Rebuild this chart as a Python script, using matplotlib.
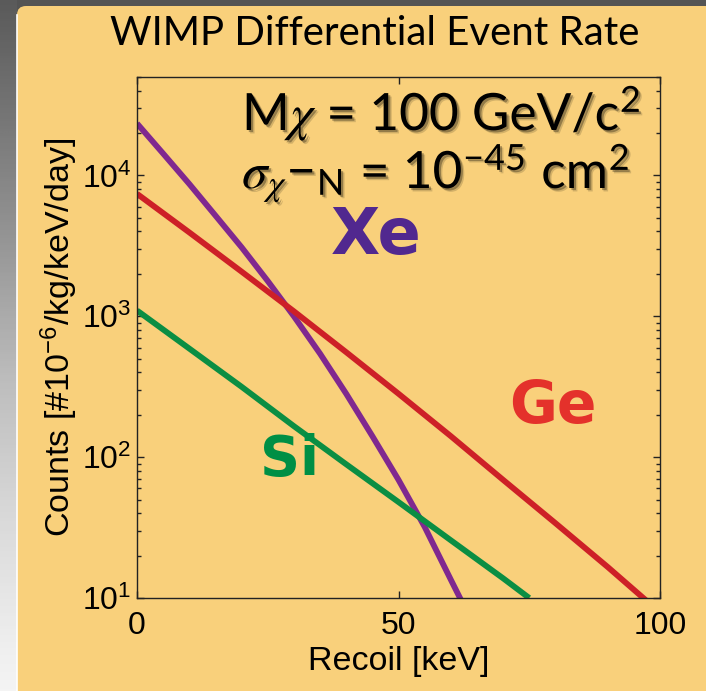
import numpy as np
import matplotlib
matplotlib.use("Agg")
import matplotlib.pyplot as plt
from matplotlib.patches import FancyBboxPatch
from matplotlib.lines import Line2D
import matplotlib.patheffects as pe

# recoil energy [keV] and differential rate [1e-6 counts/kg/keV/day]
recoil_xe = [0, 5, 10, 15, 20, 25, 30, 35, 40, 45, 50, 55, 60, 62]
rate_xe = [23400, 14300, 8700, 5190, 3090, 1780, 1000, 543, 282, 141, 69, 32, 13.5, 9.6]

recoil_ge = [0, 10, 20, 30, 40, 50, 60, 70, 80, 90, 97.5]
rate_ge = [7410, 3940, 2075, 1085, 556, 282, 141, 69, 34, 16.6, 9.5]

recoil_si = [0, 10, 20, 30, 40, 50, 60, 70, 75]
rate_si = [1100, 590, 316, 166, 89, 48, 25.7, 13.8, 10]

targets = ["Xe", "Ge", "Si"]
line_colors = ["#80288F", "#CD2027", "#0B8E43"]
label_colors = ["#51288F", "#E4312B", "#008F45"]
label_sizes = [46, 42, 40]

orange = "#F9D07B"

plt.rcParams["font.family"] = ["Liberation Sans", "DejaVu Sans"]
plt.rcParams["mathtext.fontset"] = "custom"
plt.rcParams["mathtext.rm"] = "Lato"
plt.rcParams["mathtext.it"] = "STIXGeneral:italic"

fig = plt.figure(figsize=(7.06, 6.91), dpi=100)
fig.patch.set_facecolor("#545454")

# grey gradient strip down the left side
strip = fig.add_axes([0, 0, 17 / 706, 1], zorder=-3)
grad = np.linspace(0, 1, 256).reshape(-1, 1)
strip.imshow(grad, aspect="auto", cmap="Greys_r", vmin=-0.45, vmax=1.15,
             extent=[0, 1, 0, 1], origin="upper")
strip.axis("off")

# rounded slide panel
panel = FancyBboxPatch((0.17, -0.5), 8.0, 6.85 + 0.5,
                       boxstyle="round,pad=0,rounding_size=0.09",
                       transform=fig.dpi_scale_trans, facecolor=orange,
                       edgecolor="none", zorder=-2)
fig.add_artist(panel)
fig.add_artist(Line2D([0.165, 0.165], [0, 6.76], transform=fig.dpi_scale_trans,
                      color="white", lw=1.2, zorder=-1))

ax = fig.add_axes([137 / 706, 1 - 598 / 691, 523 / 706, 521 / 691])
ax.set_facecolor(orange)

ax.plot(recoil_xe, rate_xe, color=line_colors[0], lw=4.2, solid_capstyle="butt")
ax.plot(recoil_ge, rate_ge, color=line_colors[1], lw=4.2, solid_capstyle="butt")
ax.plot(recoil_si, rate_si, color=line_colors[2], lw=4.2, solid_capstyle="butt")

ax.set_yscale("log")
ax.set_xlim(0, 100)
ax.set_ylim(10, 5e4)
ax.set_xticks([0, 50, 100])

for s in ax.spines.values():
    s.set_linewidth(1.0)
    s.set_color("#222222")

ax.tick_params(which="both", direction="in", top=True, right=True,
               color="#222222", width=1.0, labelsize=23)
ax.tick_params(which="major", length=5, pad=4)
ax.tick_params(axis="x", which="major", pad=9)
ax.tick_params(which="minor", length=3)
ax.xaxis.set_minor_locator(matplotlib.ticker.NullLocator())

ax.set_xlabel("Recoil [keV]", fontsize=24.5, labelpad=4)
ax.set_ylabel(r"Counts [#10$^{\mathdefault{-6}}$/kg/keV/day]", fontsize=24.5, labelpad=2)

# target labels
label_pos = [(0.457, 0.694), (0.795, 0.367), (0.292, 0.265)]
for name, c, size, (lx, ly) in zip(targets, label_colors, label_sizes, label_pos):
    ax.text(lx, ly, name, transform=ax.transAxes, color=c, fontsize=size,
            fontweight="bold", family="DejaVu Sans", ha="center", va="center")

fig.text(0.531, 1 - 45 / 691, "WIMP Differential Event Rate", family="Lato",
         fontsize=29, ha="center", va="baseline")

shadow = [pe.SimplePatchShadow(offset=(2.5, -2.5), shadow_rgbFace="k", alpha=0.15),
          pe.SimplePatchShadow(offset=(1.5, -1.5), shadow_rgbFace="k", alpha=0.3),
          pe.Normal()]
fig.text(242 / 706, 1 - 130 / 691, r"M$\chi$ = 100 GeV/c$^2$", family="Lato",
         fontsize=37, ha="left", va="baseline", path_effects=shadow)
fig.text(242 / 706, 1 - 188 / 691,
         r"$\sigma_{\chi}$−$_{\mathrm{N}}$ = 10$^{-45}$ cm$^2$", family="Lato",
         fontsize=37, ha="left", va="baseline", path_effects=shadow)

fig.savefig("out.png", dpi=100, facecolor=fig.get_facecolor())
